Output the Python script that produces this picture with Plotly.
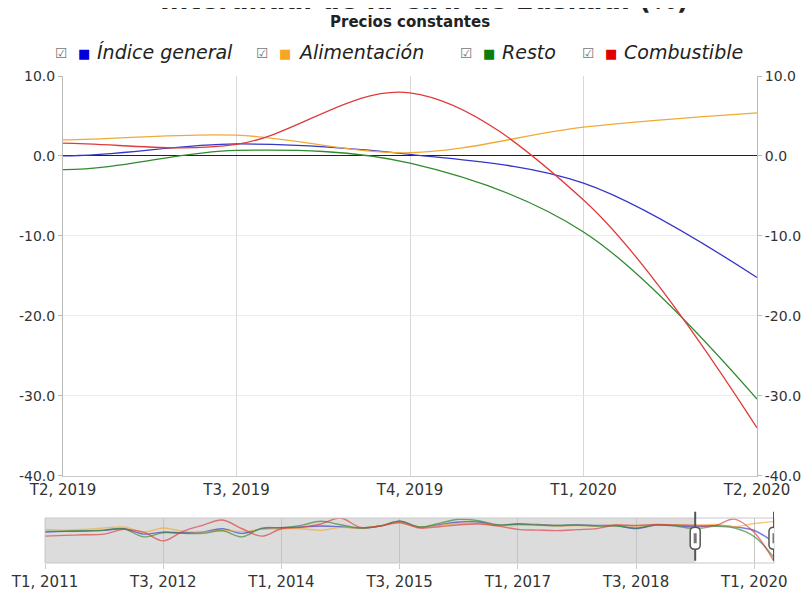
import plotly.graph_objects as go

categories = ["T1, 2011", "T2, 2011", "T3, 2011", "T4, 2011",
              "T1, 2012", "T2, 2012", "T3, 2012", "T4, 2012",
              "T1, 2013", "T2, 2013", "T3, 2013", "T4, 2013",
              "T1, 2014", "T2, 2014", "T3, 2014", "T4, 2014",
              "T1, 2015", "T2, 2015", "T3, 2015", "T4, 2015",
              "T1, 2016", "T2, 2016", "T3, 2016", "T4, 2016",
              "T1, 2017", "T2, 2017", "T3, 2017", "T4, 2017",
              "T1, 2018", "T2, 2018", "T3, 2018", "T4, 2018",
              "T1, 2019", "T2, 2019", "T3, 2019", "T4, 2019",
              "T1, 2020", "T2, 2020"]

indice_general = [-5.0, -4.3, -4.0, -3.3, -1.7, -7.0, -5.0, -5.7, -5.0, -1.7, -6.3, -1.7,
                  -0.7, 0.0, 1.0, 0.3, -1.0, 1.0, 5.7, 0.0, 2.3, 5.0, 5.0, 1.7,
                  3.0, 2.5, 1.5, 2.0, 1.5, 1.5, -1.5, 2.0, 1.5, 0.0, 1.5, 0.2, -3.4, -15.2]
alimentacion = [-2.3, -3.0, -2.3, -1.0, 0.0, -5.0, -1.0, -4.3, -5.0, -3.3, -4.3, -2.3,
                -1.7, -1.7, -3.3, -0.3, -1.0, 1.0, 5.0, 0.0, 1.7, 3.7, 3.7, 1.7,
                1.7, 2.0, 1.0, 1.5, 1.0, 2.0, 1.0, 2.0, 2.0, 2.0, 2.6, 0.4, 3.6, 5.4]
resto = [-4.3, -4.0, -3.7, -3.0, -1.7, -9.7, -5.7, -6.3, -6.3, -3.7, -9.7, -1.0,
         -0.7, 1.7, 5.7, 2.3, -1.0, 1.0, 5.7, 0.0, 3.7, 7.7, 6.3, 2.3,
         3.0, 2.0, 1.5, 2.0, 1.0, 1.0, -1.0, 2.0, 1.0, -1.7, 0.7, -0.9, -9.5, -30.4]
combustible = [-9.0, -8.3, -7.7, -7.0, -2.3, -5.0, -13.7, -4.3, 1.7, 7.0, -1.7, -9.0,
               -1.7, -0.3, 3.0, 9.0, -0.3, 1.0, 4.3, -1.0, 0.3, 2.3, 3.0, 1.0,
               -2.3, -3.0, -3.5, -2.5, -1.5, 2.0, 1.5, 2.5, 2.0, 1.6, 1.45, 7.9, -5.5, -34.0]

series_names = ["Índice general", "Alimentación", "Resto", "Combustible"]
series_values = [indice_general, alimentacion, resto, combustible]
line_colors = ["#3535c8", "#f0aa38", "#2f8a2f", "#e03a3a"]
legend_colors = ["#0000dd", "#f5a623", "#0a7d0a", "#e00000"]

y_tick_values = [-40, -30, -20, -10, 0, 10]
y_tick_labels = ["-40.0", "-30.0", "-20.0", "-10.0", "0.0", "10.0"]

title_text = "Interanual de la C.A. de Euskadi (%)"
subtitle_text = "Precios constantes"
nav_tick_labels = categories[0::6]

FONT = "DejaVu Sans"
sel_start, sel_end = 33, 37

fig = go.Figure()
for name, vals, col in zip(series_names, series_values, line_colors):
    fig.add_trace(go.Scatter(x=categories, y=vals, name=name, mode="lines",
                             line=dict(color=col, width=1.3, shape="spline", smoothing=1.0),
                             xaxis="x", yaxis="y", showlegend=False))
for name, vals, col in zip(series_names, series_values, line_colors):
    fig.add_trace(go.Scatter(x=categories, y=vals, name=name, mode="lines",
                             line=dict(color=col, width=1.4, shape="spline", smoothing=1.0),
                             opacity=0.65, xaxis="x2", yaxis="y2", showlegend=False,
                             hoverinfo="skip"))
# dummy trace for right-side axis
fig.add_trace(go.Scatter(x=[categories[sel_start]], y=[None], xaxis="x", yaxis="y3",
                         showlegend=False, hoverinfo="skip"))

tickfont = dict(family=FONT, size=15, color="#333333")
ytickfont = dict(family=FONT, size=14, color="#333333")

# the page body has an 8px margin, so the figure is 8px smaller on each axis
fig.update_layout(
    width=801, height=584,
    margin=dict(l=37, r=35, t=68, b=29, autoexpand=False),
    paper_bgcolor="white", plot_bgcolor="white",
    font=dict(family=FONT, color="#333333"),
    xaxis=dict(domain=[0.0247, 0.9767], anchor="y", type="category", automargin=False,
               range=[sel_start, sel_end], tickfont=tickfont,
               showgrid=True, gridcolor="#d8d8d8", showline=True, linecolor="#c8c8c8",
               ticks="", zeroline=False),
    yaxis=dict(domain=[0.179, 1.0], anchor="x", range=[-40, 10], automargin=False,
               tickmode="array", tickvals=y_tick_values, ticktext=y_tick_labels,
               tickfont=ytickfont, ticks="outside", ticklen=4,
               tickcolor="#bbbbbb", showline=True, linecolor="#bbbbbb",
               showgrid=True, gridcolor="#ececec",
               zeroline=True, zerolinecolor="#222222", zerolinewidth=1.2),
    yaxis3=dict(overlaying="y", anchor="x", side="right", matches="y", automargin=False,
                range=[-40, 10], tickmode="array", tickvals=y_tick_values,
                ticktext=y_tick_labels, tickfont=ytickfont,
                ticks="outside", ticklen=4, tickcolor="#bbbbbb", showline=True,
                linecolor="#bbbbbb", showgrid=False, zeroline=False),
    xaxis2=dict(domain=[0, 1], anchor="y2", type="category", range=[0, 37], automargin=False,
                tickmode="array", tickvals=nav_tick_labels, ticktext=nav_tick_labels,
                tickfont=tickfont, showgrid=True, gridcolor="#c4c4c4",
                ticks="outside", ticklen=5, tickcolor="#cccccc", showline=False,
                zeroline=False),
    yaxis2=dict(domain=[0, 0.0924], anchor="x2", range=[-35.7, 9], automargin=False,
                showticklabels=False, showgrid=False, zeroline=False, ticks=""),
    hovermode=False,
)

shapes = []
# grey unselected region of the navigator
shapes.append(dict(type="rect", xref="x2", yref="y2 domain", x0=0, x1=sel_start,
                   y0=0, y1=1, fillcolor="#dcdcdc", line=dict(width=0), layer="below"))
# navigator border
shapes.append(dict(type="rect", xref="x2 domain", yref="y2 domain", x0=0, x1=1,
                   y0=0, y1=1, line=dict(color="#c8c8c8", width=1), fillcolor="rgba(0,0,0,0)"))
for pos in (sel_start, sel_end):
    shapes.append(dict(type="line", xref="x2", yref="y2 domain", x0=pos, x1=pos,
                       y0=0.05, y1=1.14, line=dict(color="#555555", width=2)))
    shapes.append(dict(type="path", xref="x2", yref="y2 domain", xsizemode="pixel",
                       ysizemode="pixel", xanchor=pos, yanchor=0.55,
                       path="M -5,-7 Q -5,-11 0,-11 Q 5,-11 5,-7 L 5,7 Q 5,11 0,11 Q -5,11 -5,7 Z",
                       fillcolor="white", line=dict(color="#555555", width=1.5)))
    shapes.append(dict(type="rect", xref="x2", yref="y2 domain", xsizemode="pixel",
                       ysizemode="pixel", xanchor=pos, yanchor=0.55,
                       x0=-1.5, x1=1.5, y0=-5, y1=5,
                       fillcolor="#777777", line=dict(width=0)))
fig.update_layout(shapes=shapes)

annotations = []
annotations.append(dict(text="<b>" + title_text + "</b>", xref="paper", yref="paper",
                        x=0.52, y=1.156, xanchor="center", yanchor="middle",
                        showarrow=False, font=dict(family=FONT, size=26, color="#222222")))
annotations.append(dict(text="<b>" + subtitle_text + "</b>", xref="paper", yref="paper",
                        x=0.5, y=1.111, xanchor="center", yanchor="middle",
                        showarrow=False, font=dict(family=FONT, size=15, color="#222222")))

# legend: checkbox, coloured square, italic name
box_px = [61, 262, 466, 588]
leg_y = 1.047
def px_to_paper(px):
    return (px - 45) / 729.0
for name, col, bx in zip(series_names, legend_colors, box_px):
    annotations.append(dict(text="☑", xref="paper", yref="paper", x=px_to_paper(bx),
                            y=leg_y, xanchor="center", yanchor="middle", showarrow=False,
                            font=dict(family=FONT, size=14, color="#777777")))
    annotations.append(dict(text="■", xref="paper", yref="paper", x=px_to_paper(bx + 23),
                            y=leg_y, xanchor="center", yanchor="middle", showarrow=False,
                            font=dict(family=FONT, size=13, color=col)))
    annotations.append(dict(text="<i>" + name + "</i>", xref="paper", yref="paper",
                            x=px_to_paper(bx + 34), y=leg_y + 0.002, xanchor="left",
                            yanchor="middle", showarrow=False,
                            font=dict(family=FONT, size=19, color="#222222")))
fig.update_layout(annotations=annotations)

fig.write_html("out.html")
